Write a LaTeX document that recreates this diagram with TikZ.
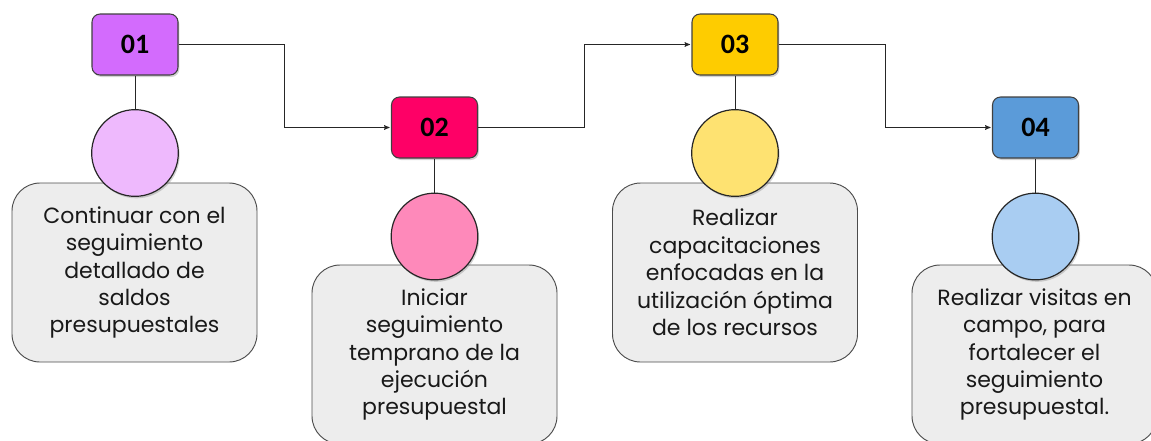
\documentclass[tikz,border=0pt]{standalone}
\usepackage{fontspec}
\setmainfont{Poppins}
\newfontfamily\numfont{Carlito}
\usetikzlibrary{arrows,calc,shadows}

\definecolor{lila}{HTML}{D36BFD}
\definecolor{lilaclaro}{HTML}{EEB9FD}
\definecolor{rosa}{HTML}{FE0066}
\definecolor{rosaclaro}{HTML}{FE89BA}
\definecolor{oro}{HTML}{FECC00}
\definecolor{oroclaro}{HTML}{FEE271}
\definecolor{azul}{HTML}{5B9BD9}
\definecolor{azulclaro}{HTML}{A9CDF2}
\definecolor{cajagris}{HTML}{EDEDED}

\begin{document}
\begin{tikzpicture}[x=0.75pt,y=-0.75pt,->,>=stealth',shorten >=1pt,
  num node/.style={rectangle,rounded corners=6pt,draw=black!75,line width=0.8pt,
    minimum width=64.5pt,minimum height=45.75pt,font=\numfont\bfseries\fontsize{21}{24}\selectfont,
    drop shadow={shadow xshift=1pt,shadow yshift=-1.5pt,opacity=0.35}},
  dot node/.style={circle,draw=black!85,line width=0.9pt,minimum size=65pt,inner sep=0pt,
    drop shadow={shadow xshift=1pt,shadow yshift=-1.5pt,opacity=0.35}},
  text node/.style={rectangle,rounded corners=21pt,draw=black!70,line width=0.7pt,fill=cajagris,
    minimum width=183.75pt,minimum height=134.25pt,align=center,text=black!90,
    font=\fontsize{16.5}{20.6}\selectfont},
  elbow/.style={to path={-| ($(\tikztostart)!0.5!(\tikztotarget)$) |- (\tikztotarget) \tikztonodes}}]

  \useasboundingbox (0,0) rectangle (1151,440);

  % cajas de texto
  \node[text node] (t1) at (134.5,272.5) {Continuar con el\\seguimiento\\detallado de\\saldos\\presupuestales};
  \node[text node] (t2) at (434.5,354.5) {Iniciar\\seguimiento\\temprano de la\\ejecución\\presupuestal};
  \node[text node] (t3) at (735,272.5) {Realizar\\capacitaciones\\enfocadas en la\\utilización óptima\\de los recursos};
  \node[text node] (t4) at (1034.5,354.5) {Realizar visitas en\\campo, para\\fortalecer el\\seguimiento\\presupuestal.};

  % circulos
  \node[dot node, fill=lilaclaro] (c1) at (135,153) {};
  \node[dot node, fill=rosaclaro] (c2) at (434.5,236.5) {};
  \node[dot node, fill=oroclaro] (c3) at (735,153) {};
  \node[dot node, fill=azulclaro] (c4) at (1035.5,236.5) {};

  % numeros
  \node[num node, fill=lila] (n1) at (135,44.5) {01};
  \node[num node, fill=rosa] (n2) at (434.5,127.5) {02};
  \node[num node, fill=oro] (n3) at (735,44.5) {03};
  \node[num node, fill=azul] (n4) at (1035.5,127.5) {04};

  \path[every edge/.append style={draw=black!85,line width=0.6pt}]
    (n1.east) edge [elbow] (n2.west)
    (n2.east) edge [elbow] (n3.west)
    (n3.east) edge [elbow] (n4.west)
    (n1) edge [-,shorten >=0pt] (c1)
    (n2) edge [-,shorten >=0pt] (c2)
    (n3) edge [-,shorten >=0pt] (c3)
    (n4) edge [-,shorten >=0pt] (c4);
\end{tikzpicture}
\end{document}
